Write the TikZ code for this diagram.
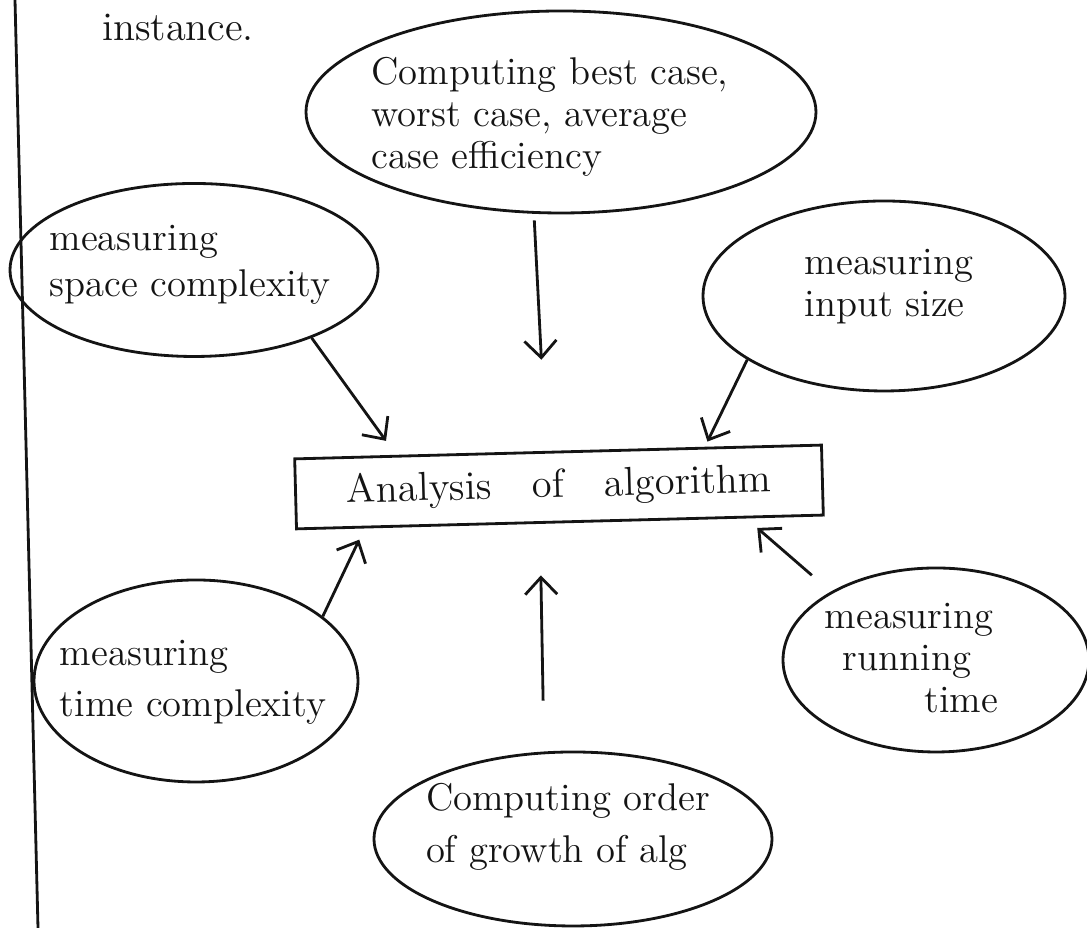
\documentclass[tikz,border=0pt]{standalone}
\usepackage{tikz}
\usetikzlibrary{positioning,arrows.meta,shapes.geometric}
\definecolor{ink}{RGB}{20,20,20}
\tikzset{
  bubble/.style={ellipse,draw=ink,thick,inner sep=0pt},
  note/.style={align=left,inner sep=0pt,text=ink,font=\fontsize{11}{12}\selectfont},
  mainbox/.style={rectangle,draw=ink,thick,minimum width=5.27cm,minimum height=0.7cm,inner sep=0pt,text=ink,font=\fontsize{11.5}{12.5}\selectfont},
  edge/.style={-{Straight Barb[length=1.7mm,width=3.2mm]},thick,draw=ink}
}

\begin{document}
\begin{tikzpicture}
  \useasboundingbox (0,0) rectangle (10.87,-9.28);
  \coordinate (margintop) at (0.15,0);
  \coordinate (marginbot) at (0.38,-9.28);
  \draw[ink,thick] (margintop) -- (marginbot);
  \node[note,font=\fontsize{11.5}{12.5}\selectfont] (inst) at (1.78,-0.28) {instance.};

  \node[mainbox,rotate=1.5] (algo) at (5.59,-4.87) {Analysis\quad of\quad algorithm};

  \node[bubble,minimum width=5.10cm,minimum height=2.02cm] (best) at (5.61,-1.12) {};
  \node[note] (bestt) at (5.50,-1.17) {Computing best case,\\worst case, average\\case efficiency};

  \node[bubble,minimum width=3.68cm,minimum height=1.73cm] (space) at (1.94,-2.70) {};
  \node[note] (spacet) at (1.90,-2.65) {measuring\\[1pt]space complexity};

  \node[bubble,minimum width=3.62cm,minimum height=1.90cm] (input) at (8.84,-2.96) {};
  \node[note] (inputt) at (8.89,-2.87) {measuring\\input size};

  \node[bubble,minimum width=3.24cm,minimum height=2.02cm] (time) at (1.96,-6.81) {};
  \node[note] (timet) at (1.93,-6.82) {measuring\\[2.5pt]time complexity};

  \node[bubble,minimum width=3.06cm,minimum height=1.84cm] (running) at (9.36,-6.60) {};
  \node[note,anchor=west] (runningt) at (8.24,-6.58) {measuring\\\hspace*{0.18cm}running\\\hspace*{1.00cm}time};

  \node[bubble,minimum width=3.98cm,minimum height=1.74cm] (growth) at (5.73,-8.39) {};
  \node[note] (growtht) at (5.68,-8.27) {Computing order\\[3pt]of growth of alg};

  % arrows into the box
  \draw[edge,shorten <=0.06cm,shorten >=0.91cm] ([xshift=-2.7mm]best.south) -- ([xshift=-1.2mm]algo.north);
  \draw[edge,shorten >=0.12cm] (space.-30) -- ([xshift=-16.5mm]algo.north);
  \draw[edge,shorten >=0.1cm] (input.205) -- ([xshift=14.5mm]algo.north);
  \draw[edge,shorten >=0.18cm] (time.27) -- ([xshift=-19.3mm]algo.south);
  \draw[edge,shorten <=0.5cm,shorten >=0.52cm] ([xshift=-2.9mm]growth.north) -- ([xshift=-2mm]algo.south);
  \draw[edge,shorten <=0.25cm,shorten >=0.07cm] (running.147) -- ([xshift=19.2mm]algo.south);
\end{tikzpicture}
\end{document}
